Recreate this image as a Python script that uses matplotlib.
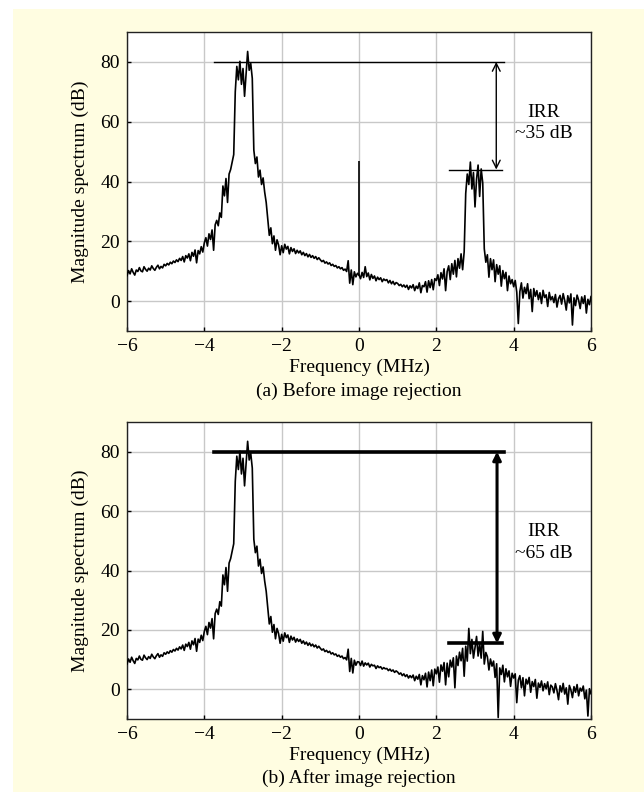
import numpy as np
import matplotlib
matplotlib.use('Agg')
import matplotlib.pyplot as plt
from matplotlib.patches import Rectangle

# magnitude spectra (dB), frequency grid -6..6 MHz
# signal side (-6.00 .. -0.04 MHz), same in both panels
signal_side = [
    8.5, 10.2, 9.1, 10.8, 9.6, 8.7, 10.4, 9.9, 11.2, 10.1, 9.8, 11.5, 10.6, 10.0, 11.0, 10.4, 11.8, 10.9, 10.3, 11.3, 12.0, 10.8, 11.6, 11.1, 12.3,
    11.8, 12.6, 12.1, 13.0, 12.5, 13.4, 12.9, 13.8, 13.2, 14.3, 13.6, 14.9, 13.1, 15.2, 14.4, 15.8, 13.5, 16.3, 15.0, 17.1, 12.8, 16.9, 15.8, 18.2, 16.4,
    19.5, 21.2, 18.4, 22.5, 20.6, 23.8, 17.0, 25.5, 27.0, 25.2, 29.5, 28.0, 38.5, 35.2, 41.0, 33.0, 42.5, 44.0, 46.5, 49.0,
    70.0, 78.5, 74.0, 80.2, 72.5, 77.8, 68.5, 76.0, 83.5, 77.2, 79.5, 74.5,
    50.5, 46.0, 48.2, 41.5, 43.8, 39.0, 41.2, 36.5, 33.0, 27.5, 22.0, 24.5, 19.2, 21.8, 17.0, 20.5, 18.8, 15.5,
    18.5, 16.2, 19.0, 17.4, 18.3, 15.8, 17.9, 16.6, 17.5, 15.9, 17.0, 16.1, 16.8, 15.5, 16.3, 15.2, 15.9, 14.8, 15.6, 14.6, 15.2, 14.3, 14.9, 13.9, 14.5,
    13.8, 13.2, 13.6, 12.7, 13.1, 12.4, 12.8, 11.9, 12.3, 11.6, 11.9, 11.1, 11.5, 10.8, 11.2, 10.3, 10.7, 9.9, 13.5, 6.0, 10.4, 5.5, 9.8, 8.1, 9.3,
]

# image side (0.00 .. 6.00 MHz) before image rejection
image_side_before = [
    8.8, 7.5, 9.6, 7.9, 11.5, 8.2, 9.4, 7.1, 8.9, 7.6, 8.4, 6.8, 8.0, 7.2, 7.8, 6.5, 7.4, 6.9, 7.2, 6.1, 6.9, 5.8, 6.6, 5.5, 6.2,
    5.9, 5.2, 5.6, 4.8, 5.4, 4.6, 5.3, 3.9, 5.1, 4.4, 5.5, 3.5, 5.0, 4.2, 6.1, 2.8, 5.2, 4.8, 6.5, 3.0, 6.8, 4.5, 7.2, 3.8, 7.5,
    6.9, 8.8, 5.2, 9.5, 7.4, 10.8, 3.5, 9.9, 11.8, 7.2, 12.5, 9.0, 13.6, 8.1, 14.2, 11.0, 15.8, 10.5, 16.5,
    36.0, 42.5, 39.0, 46.5, 37.5, 43.0, 31.5, 40.8, 45.5, 35.0, 44.2, 39.5,
    17.5, 13.0, 15.5, 8.0, 14.2, 10.5, 13.8, 6.5, 12.2, 9.0, 11.8, 5.0, 10.2, 7.5, 9.6, 3.5, 8.4, 5.8, 7.2,
    4.8, 6.9, 3.0, -7.5, 3.2, 6.1, 1.0, 4.6, 2.5, 5.8, 0.8, 3.9, -3.5, 4.2, 1.6, 3.5, 0.5, 2.8, -0.8, 3.6, 1.2, 2.1, -1.8, 2.9, 0.4,
    1.5, -0.5, 2.2, -2.0, 0.8, 1.9, -1.0, 2.5, 0.2, -3.0, 1.8, -0.6, 2.4, -8.0, 1.1, -1.5, 2.0, 0.3, -2.5, 1.4, -0.8, 1.8, -4.0, 0.6, -1.2, 1.5,
]

# image side (0.00 .. 6.00 MHz) after image rejection
image_side_after = [
    9.2, 8.0, 9.5, 7.8, 8.9, 8.2, 8.8, 7.5, 8.4, 7.9, 8.1, 7.0, 7.9, 7.3, 7.6, 6.8, 7.3, 6.9, 7.0, 6.3, 6.8, 6.1, 6.5, 5.7, 6.2,
    5.8, 5.1, 5.5, 4.6, 5.2, 4.3, 4.9, 3.8, 4.6, 3.9, 4.8, 2.9, 4.4, 3.4, 5.0, 1.5, 4.6, 3.2, 5.4, 0.8, 5.8, 2.9, 6.5, 1.2, 6.8,
    5.2, 7.5, 2.4, 8.2, 6.1, 9.0, 1.5, 8.8, 4.2, 9.8, 7.5, 10.6, 0.5, 11.2, 8.0, 12.5, 9.6, 13.8, 4.4,
    14.5, 9.5, 20.5, 12.0, 16.8, 10.5, 14.0, 17.8, 11.2, 15.5, 10.5, 19.5, 8.5, 12.4,
    11.0, 6.5, 10.2, 7.8, 9.5, 4.0, 8.6, -9.5, 7.2, 5.0, 8.1, 2.5, 6.9, 4.2, 6.2, 1.0, 5.4,
    3.8, 5.2, -4.5, 3.1, 4.6, 0.5, 3.9, -2.2, 3.4, 1.8, 4.0, -1.0, 2.6, 0.9, 3.3, -3.0, 2.1, 0.6, 2.8, -0.5, 1.9, 0.2, 2.5, -1.8, 1.4,
    0.8, -1.2, 1.9, -0.4, -3.5, 1.2, -0.9, 2.0, -1.6, 0.5, -5.0, 1.3, -0.2, -2.8, 0.9, -1.0, 1.6, -2.2, 0.4, -0.6, 1.1, -3.2, -0.3, -9.0, 0.2, -1.5,
]

# DC spur visible only before rejection
spur_freq = [0.0]
spur_level = [47.0]
spur_base = [8.5]

# IRR markers: (signal level, image level, text, text centre level)
irr_before = (80.0, 44.0, 'IRR\n~35 dB', 59.5)
irr_after = (80.0, 15.5, 'IRR\n~65 dB', 49.5)

xticks = [-6, -4, -2, 0, 2, 4, 6]
yticks = [0, 20, 40, 60, 80]
captions = ['(a) Before image rejection', '(b) After image rejection']

plt.rcParams['font.family'] = ['Liberation Serif', 'DejaVu Serif']
plt.rcParams['font.size'] = 14

fig = plt.figure(figsize=(6.44, 7.92), dpi=100, facecolor='white')
fig.patches.append(Rectangle((13/644., 0), 1 - 13/644., 1 - 9/792., transform=fig.transFigure,
                             facecolor='#FFFDE1', edgecolor='none', zorder=-10))

ax_a = fig.add_axes([127/644., 1 - 331/792., 464/644., 299/792.])
ax_b = fig.add_axes([127/644., 1 - 719/792., 464/644., 297/792.])

mag_before = np.array(signal_side + image_side_before)
mag_after = np.array(signal_side + image_side_after)

panels = [(ax_a, mag_before, irr_before, 1.0, 'open'),
          (ax_b, mag_after, irr_after, 2.6, 'filled')]

for k, (ax, mag, irr, lw, head) in enumerate(panels):
    freq = np.linspace(-6, 6, len(mag))
    ax.plot(freq, mag, color='black', lw=1.2, zorder=3)
    if k == 0:
        ax.vlines(spur_freq, spur_base, spur_level, color='black', lw=1.2, zorder=3)

    top, low, txt, ty = irr
    ax.plot([-3.75, 3.75], [top, top], color='black', lw=lw, zorder=4)
    ax.plot([2.33, 3.7], [low, low], color='black', lw=lw, zorder=4)
    if head == 'open':
        ax.annotate('', xy=(3.55, low), xytext=(3.55, top),
                    arrowprops=dict(arrowstyle='<->', color='black', lw=1.0,
                                    shrinkA=0, shrinkB=0, mutation_scale=14), zorder=5)
    else:
        ax.annotate('', xy=(3.57, low), xytext=(3.57, top),
                    arrowprops=dict(arrowstyle='<|-|>', color='black', lw=2.2,
                                    shrinkA=0, shrinkB=0, mutation_scale=12), zorder=5)
    ax.text(4.78, ty, txt, ha='center', va='center', linespacing=1.35)

    ax.set_xlim(-6, 6)
    ax.set_ylim(-10, 90)
    ax.set_xticks(xticks)
    ax.set_yticks(yticks)
    ax.grid(True, color='#C8C8C8', lw=1.0, zorder=0)
    ax.tick_params(direction='in', length=3, width=1, color='black', pad=5)
    for s in ax.spines.values():
        s.set_linewidth(1.0)
        s.set_color('#222222')
    ax.set_xlabel('Frequency (MHz)', labelpad=3)
    ax.set_ylabel('Magnitude spectrum (dB)', labelpad=8)
    ax.text(0.5, -0.2, captions[k], transform=ax.transAxes, ha='center', va='center')

fig.savefig('out.png', dpi=100, facecolor=fig.get_facecolor())
